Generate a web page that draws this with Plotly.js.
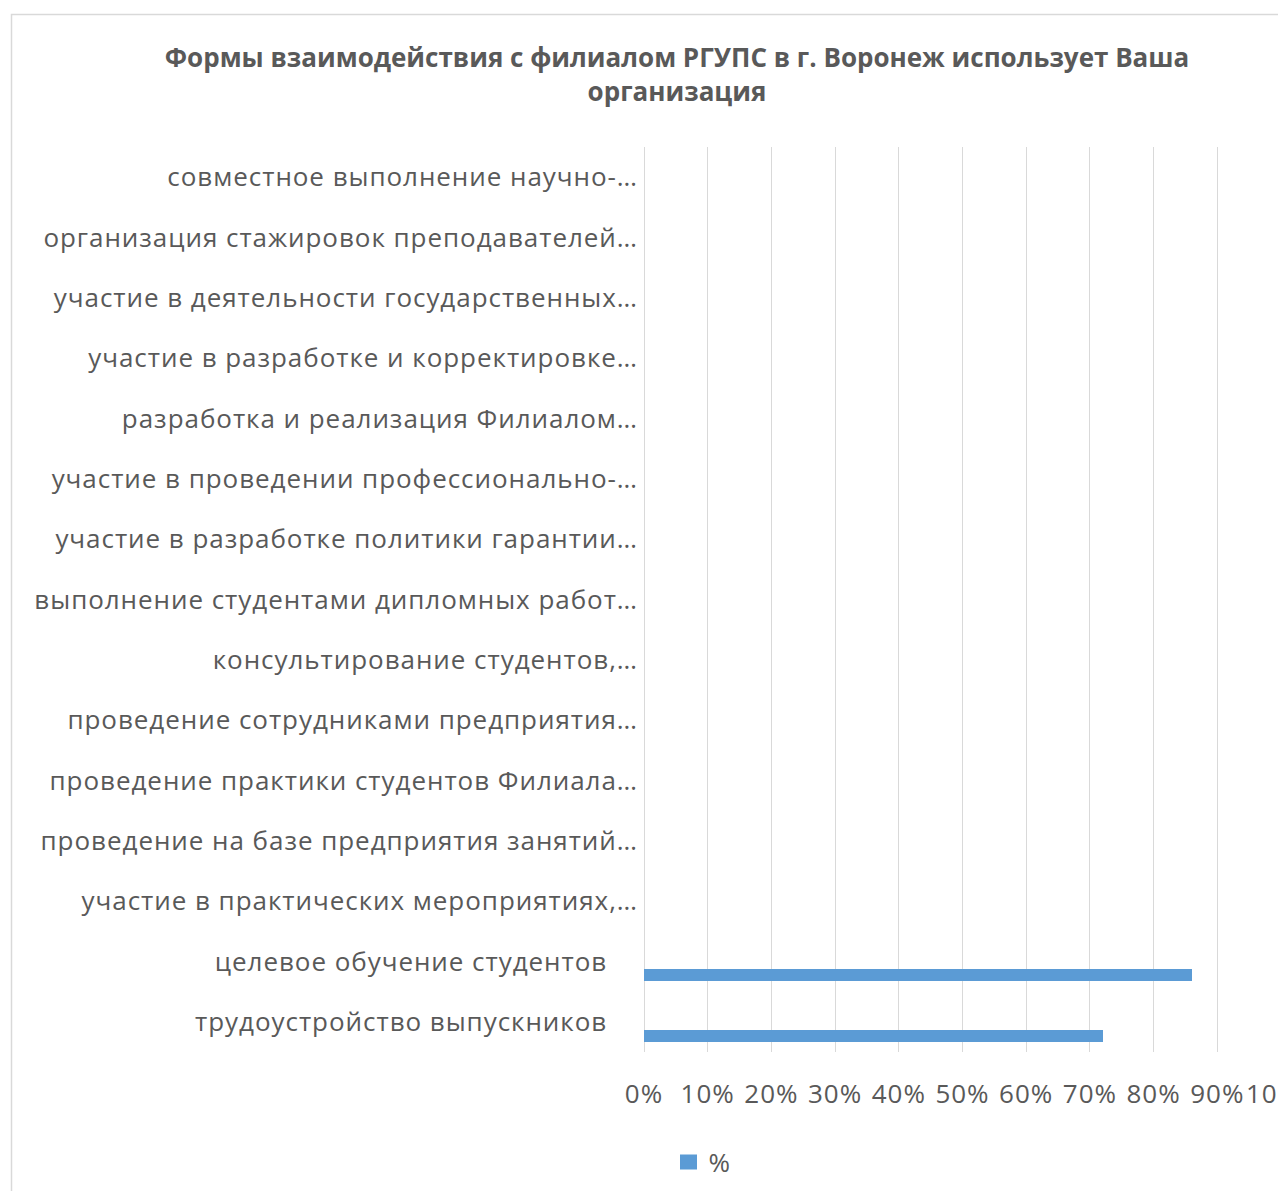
<!DOCTYPE html>
<html>
<head>
<meta charset="utf-8">
<script src="https://cdn.plot.ly/plotly-3.0.1.min.js"></script>
<style>
  html, body { margin: 0; padding: 0; overflow: hidden; background: #fff; }
  #chart { width: 1281px; height: 1191px; }
  #chart g.ytick text { letter-spacing: 0.95px; }
  #chart g.xtick text { letter-spacing: 1px; }
  #chart g.legendpoints path { d: path("M8.5,7.5H-8.5V-7.5H8.5Z"); }
</style>
</head>
<body>
<div id="chart"></div>
<script>
// Categories listed top to bottom as in the chart
const categories = [
  "совместное выполнение научно-…",
  "организация стажировок преподавателей…",
  "участие в деятельности государственных…",
  "участие в разработке и корректировке…",
  "разработка и реализация Филиалом…",
  "участие в проведении профессионально-…",
  "участие в разработке политики гарантии…",
  "выполнение студентами дипломных работ…",
  "консультирование студентов,…",
  "проведение сотрудниками предприятия…",
  "проведение практики студентов Филиала…",
  "проведение на базе предприятия занятий…",
  "участие в практических мероприятиях,…",
  "целевое обучение студентов\u00a0\u00a0\u00a0\u00a0",
  "трудоустройство выпускников\u00a0\u00a0\u00a0\u00a0"
];
const percentValues = [0, 0, 0, 0, 0, 0, 0, 0, 0, 0, 0, 0, 0, 0.86, 0.72];
const seriesName = "%";
const xTickValues = [0, 0.1, 0.2, 0.3, 0.4, 0.5, 0.6, 0.7, 0.8, 0.9, 1.0];
const xTickLabels = ["0%", "10%", "20%", "30%", "40%", "50%", "60%", "70%", "80%", "90%", "100%"];
const chartTitle = "Формы взаимодействия с филиалом РГУПС в г. Воронеж использует Ваша<br>организация";

const W = 1281, H = 1191;
const mL = 644, mR = 0, mT = 147, mB = 139;
const pw = W - mL - mR, ph = H - mT - mB;
const px2x = p => (p - mL) / pw;
const py2y = p => (H - mB - p) / ph;

const textColor = "#595959";
const font = "Open Sans, sans-serif";

const trace = {
  type: "bar",
  orientation: "h",
  y: categories,
  x: percentValues,
  name: seriesName,
  width: 0.2,
  offset: 0.13,
  marker: { color: "#5B9BD5", line: { width: 0 } },
  showlegend: true,
  hoverinfo: "x+y"
};

const layout = {
  width: W, height: H,
  margin: { l: mL, r: mR, t: mT, b: mB, pad: 0 },
  paper_bgcolor: "#ffffff",
  plot_bgcolor: "#ffffff",
  font: { family: font, color: textColor, size: 26 },
  title: {
    text: chartTitle,
    font: { family: font, size: 26, color: textColor, weight: "bold" },
    xref: "container", x: 677 / W, xanchor: "center",
    yref: "container", y: 1 - 67 / H, yanchor: "middle"
  },
  xaxis: {
    range: [0, 1],
    tickvals: xTickValues,
    ticktext: xTickLabels,
    showgrid: true,
    gridcolor: "#d9d9d9",
    gridwidth: 1,
    zeroline: true,
    zerolinecolor: "#d9d9d9",
    zerolinewidth: 1,
    showline: false,
    ticks: "",
    ticklabelstandoff: 24,
    ticklabeloverflow: "allow",
    tickfont: { family: font, size: 26, color: textColor },
    fixedrange: true
  },
  yaxis: {
    type: "category",
    autorange: "reversed",
    showgrid: false,
    zeroline: false,
    showline: false,
    ticks: "",
    ticklabelstandoff: 5,
    tickfont: { family: font, size: 26, color: textColor },
    fixedrange: true
  },
  showlegend: true,
  legend: {
    orientation: "h",
    xref: "container", x: 702 / W, xanchor: "center",
    yref: "container", y: 1 - 1162 / H, yanchor: "middle",
    font: { family: font, size: 26, color: textColor },
    bgcolor: "rgba(0,0,0,0)"
  },
  shapes: [{
    type: "rect",
    xref: "paper", yref: "paper",
    x0: px2x(11.5), x1: px2x(1300),
    y0: py2y(1196), y1: py2y(14.5),
    line: { color: "#d9d9d9", width: 1.5 },
    fillcolor: "rgba(0,0,0,0)",
    layer: "below"
  }],
  bargap: 0
};

Plotly.newPlot("chart", [trace], layout, { displayModeBar: false, responsive: false });
</script>
</body>
</html>
